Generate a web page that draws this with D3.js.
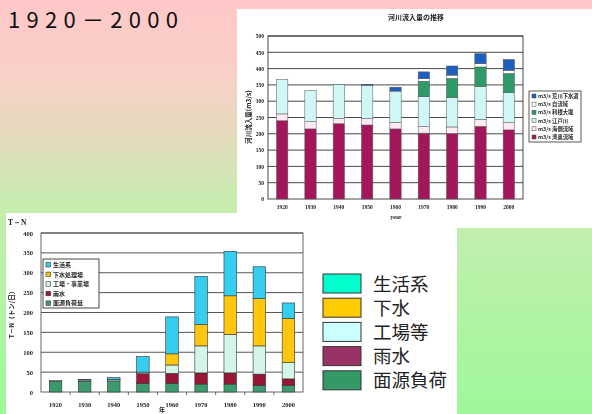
<!DOCTYPE html>
<html>
<head>
<meta charset="utf-8">
<script src="https://cdn.jsdelivr.net/npm/d3@7"></script>
<style>
  html, body { margin: 0; padding: 0; background: #fff; }
  svg { display: block; }
</style>
</head>
<body>
<svg id="slide" width="592" height="414"></svg>
<script>
// ---- Data: upper chart (river inflow, m3/s) ----
const years = ["1920", "1930", "1940", "1950", "1960", "1970", "1980", "1990", "2000"];
const inflowKeys = ["湾奥流域", "海側流域", "江戸川", "利根大堰", "自流域", "荒川下水道"];
const inflowBay      = [240, 215, 231, 227, 215, 202, 201, 223, 212];
const inflowCoast    = [21, 22, 16, 20, 20, 20, 20, 21, 22];
const inflowEdogawa  = [106, 96, 104, 102, 96, 92, 90, 101, 92];
const inflowTone     = [0, 0, 0, 0, 0, 47, 59, 60, 59];
const inflowLocal    = [0, 0, 0, 0, 0, 8, 10, 10, 10];
const inflowSewer    = [0, 0, 0, 3, 12, 21, 28, 31, 33];
const inflowTicks    = [0, 50, 100, 150, 200, 250, 300, 350, 400, 450, 500];

// ---- Data: lower chart (T-N load, t/day) ----
const loadKeys = ["面源負荷", "雨水", "工場等", "下水", "生活系"];
const loadNonPoint   = [27, 27, 28, 22, 22, 20, 20, 17, 17];
const loadRain       = [0, 0, 0, 24, 25, 28, 28, 28, 16];
const loadFactory    = [2, 3, 4, 4, 21, 68, 97, 71, 41];
const loadSewage     = [0, 0, 0, 0, 28, 54, 97, 119, 111];
const loadDomestic   = [0, 2, 4, 39, 93, 121, 112, 80, 39];
const loadTicks      = [0, 50, 100, 150, 200, 250, 300, 350, 400];
const loadLegendSmall = ["生活系", "下水処理場", "工場・事業場", "雨水", "面源負荷量"];
const bigLegend = ["生活系", "下水", "工場等", "雨水", "面源負荷"];

const svg = d3.select("#slide");
const defs = svg.append("defs");

// slide background: pink at the top fading into green
const grad = defs.append("linearGradient").attr("id", "bg").attr("x1", 0).attr("y1", 0).attr("x2", 0).attr("y2", 1);
[[0, "#fec8c8"], [0.18, "#fad0c8"], [0.34, "#e2dcbc"], [0.48, "#c8ebae"], [0.6, "#bef0ac"], [1, "#9ef89a"]]
  .forEach(([o, c]) => grad.append("stop").attr("offset", o).attr("stop-color", c));
svg.append("rect").attr("width", 592).attr("height", 414).attr("fill", "url(#bg)");

// soft look for the pasted chart images
const soft = defs.append("filter").attr("id", "soft").attr("x", -0.05).attr("y", -0.05).attr("width", 1.1).attr("height", 1.1);
soft.append("feGaussianBlur").attr("stdDeviation", 0.35);

// heading
svg.append("text")
  .attr("x", 8).attr("y", 28)
  .attr("font-family", "'Noto Sans CJK JP', 'DejaVu Sans', sans-serif")
  .attr("font-size", 22).attr("fill", "#111")
  .attr("textLength", 170).attr("lengthAdjust", "spacing")
  .text("1920－2000");

// white panels behind both charts
svg.append("rect").attr("x", 237).attr("y", 9).attr("width", 355).attr("height", 219).attr("fill", "#fff");
svg.append("rect").attr("x", 6).attr("y", 213).attr("width", 451).attr("height", 201).attr("fill", "#fff");

const jp = "'Noto Sans CJK JP', sans-serif";
const serif = "'Liberation Serif', 'DejaVu Serif', serif";

// ================= Upper chart =================
{
  const g = svg.append("g").attr("filter", "url(#soft)");
  const rows = years.map((y, i) => ({
    year: y,
    "湾奥流域": inflowBay[i], "海側流域": inflowCoast[i], "江戸川": inflowEdogawa[i],
    "利根大堰": inflowTone[i], "自流域": inflowLocal[i], "荒川下水道": inflowSewer[i]
  }));
  const colors = d3.scaleOrdinal().domain(inflowKeys)
    .range(["#a3195b", "#fbeaf2", "#d0f6f6", "#2f9a68", "#ffffff", "#1f5fbf"]);
  const x = d3.scaleBand().domain(years).range([268, 523]).paddingInner(0.6).paddingOuter(0.3);
  const y = d3.scaleLinear().domain([0, 500]).range([199, 36]);

  g.append("text").attr("x", 416).attr("y", 20).attr("text-anchor", "middle")
    .attr("font-family", jp).attr("font-size", 7).attr("font-weight", "bold").attr("fill", "#222")
    .text("河川流入量の推移");

  g.append("g").selectAll("line").data(inflowTicks.slice(1)).join("line")
    .attr("x1", 268).attr("x2", 523).attr("y1", d => y(d)).attr("y2", d => y(d))
    .attr("stroke", "#333").attr("stroke-width", 0.9);
  g.append("rect").attr("x", 268).attr("y", y(500)).attr("width", 255).attr("height", y(0) - y(500))
    .attr("fill", "none").attr("stroke", "#333").attr("stroke-width", 0.9);

  const stack = d3.stack().keys(inflowKeys)(rows);
  g.append("g").selectAll("g").data(stack).join("g")
    .attr("fill", d => colors(d.key))
    .selectAll("rect").data(d => d.filter(s => s[1] - s[0] > 0)).join("rect")
    .attr("x", d => x(d.data.year)).attr("width", x.bandwidth())
    .attr("y", d => y(d[1])).attr("height", d => y(d[0]) - y(d[1]))
    .attr("stroke", "#555").attr("stroke-width", 0.5);

  const ya = d3.axisLeft(y).tickValues(inflowTicks).tickSize(0).tickPadding(4);
  g.append("g").attr("transform", "translate(268,0)").call(ya)
    .call(a => a.select(".domain").remove())
    .selectAll("text").attr("font-family", serif).attr("font-size", 5.5).attr("font-weight", "bold").attr("fill", "#222");
  const xa = d3.axisBottom(x).tickSize(0).tickPadding(6);
  g.append("g").attr("transform", "translate(0,199)").call(xa)
    .call(a => a.select(".domain").remove())
    .selectAll("text").attr("font-family", serif).attr("font-size", 5.5).attr("font-weight", "bold").attr("fill", "#222");

  g.append("text").attr("x", 396).attr("y", 219).attr("text-anchor", "middle")
    .attr("font-family", serif).attr("font-size", 6).attr("font-weight", "bold").attr("fill", "#222").text("year");
  g.append("text").attr("transform", "translate(251,117) rotate(-90)").attr("text-anchor", "middle")
    .attr("font-family", jp).attr("font-size", 6.5).attr("font-weight", "bold").attr("fill", "#222")
    .text("河川流入量(m3/s)");

  // legend, topmost series first
  const lg = g.append("g");
  lg.append("rect").attr("x", 529).attr("y", 91).attr("width", 52).attr("height", 51)
    .attr("fill", "#fff").attr("stroke", "#333").attr("stroke-width", 0.8);
  const items = inflowKeys.slice().reverse();
  const row = lg.selectAll("g").data(items).join("g")
    .attr("transform", (d, i) => `translate(532,${98 + i * 8.2})`);
  row.append("rect").attr("x", 0).attr("y", -4).attr("width", 4).attr("height", 4)
    .attr("fill", d => colors(d)).attr("stroke", "#444").attr("stroke-width", 0.5);
  row.append("text").attr("x", 6).attr("y", 0)
    .attr("font-family", jp).attr("font-size", 5.3).attr("font-weight", "bold").attr("fill", "#222")
    .text(d => "m3/s " + d);
}

// ================= Lower chart =================
{
  const g = svg.append("g").attr("filter", "url(#soft)");
  const rows = years.map((y, i) => ({
    year: y,
    "面源負荷": loadNonPoint[i], "雨水": loadRain[i], "工場等": loadFactory[i],
    "下水": loadSewage[i], "生活系": loadDomestic[i]
  }));
  const colors = d3.scaleOrdinal().domain(loadKeys)
    .range(["#3a9a6e", "#9a1436", "#d4f6e8", "#ffc60a", "#36cdf0"]);
  const x = d3.scaleBand().domain(years).range([41, 303]).paddingInner(0.57).paddingOuter(0.285);
  const y = d3.scaleLinear().domain([0, 400]).range([392, 233]);

  g.append("g").selectAll("line").data(loadTicks.slice(1)).join("line")
    .attr("x1", 41).attr("x2", 303).attr("y1", d => y(d)).attr("y2", d => y(d))
    .attr("stroke", "#444").attr("stroke-width", 0.9);
  g.append("rect").attr("x", 41).attr("y", y(400)).attr("width", 262).attr("height", y(0) - y(400))
    .attr("fill", "none").attr("stroke", "#555").attr("stroke-width", 0.9);

  const stack = d3.stack().keys(loadKeys)(rows);
  g.append("g").selectAll("g").data(stack).join("g")
    .attr("fill", d => colors(d.key))
    .selectAll("rect").data(d => d.filter(s => s[1] - s[0] > 0)).join("rect")
    .attr("x", d => x(d.data.year)).attr("width", x.bandwidth())
    .attr("y", d => y(d[1])).attr("height", d => y(d[0]) - y(d[1]))
    .attr("stroke", "#333").attr("stroke-width", 0.6);

  // small ticks on the base line between categories
  g.append("g").selectAll("line").data(years.slice(1)).join("line")
    .attr("x1", d => x(d) - (x.step() - x.bandwidth()) / 2)
    .attr("x2", d => x(d) - (x.step() - x.bandwidth()) / 2)
    .attr("y1", 392).attr("y2", 395).attr("stroke", "#444").attr("stroke-width", 0.8);

  const ya = d3.axisLeft(y).tickValues(loadTicks).tickSize(0).tickPadding(8);
  g.append("g").attr("transform", "translate(41,0)").call(ya)
    .call(a => a.select(".domain").remove())
    .selectAll("text").attr("font-family", serif).attr("font-size", 6.5).attr("font-weight", "bold").attr("fill", "#222");
  const xa = d3.axisBottom(x).tickSize(0).tickPadding(10);
  g.append("g").attr("transform", "translate(0,392)").call(xa)
    .call(a => a.select(".domain").remove())
    .selectAll("text").attr("font-family", serif).attr("font-size", 6.5).attr("font-weight", "bold").attr("fill", "#222");

  g.append("text").attr("x", 8).attr("y", 225)
    .attr("font-family", serif).attr("font-size", 7.5).attr("font-weight", "bold").attr("fill", "#222").text("T－N");
  g.append("text").attr("transform", "translate(14,313) rotate(-90)").attr("text-anchor", "middle")
    .attr("font-family", jp).attr("font-size", 6.5).attr("font-weight", "bold").attr("fill", "#222")
    .text("T－N（トン/日）");
  g.append("text").attr("x", 162).attr("y", 412).attr("text-anchor", "middle")
    .attr("font-family", jp).attr("font-size", 6).attr("font-weight", "bold").attr("fill", "#222").text("年");

  // inner legend
  const lg = g.append("g");
  lg.append("rect").attr("x", 43).attr("y", 259).attr("width", 56).attr("height", 49)
    .attr("fill", "#fff").attr("stroke", "#333").attr("stroke-width", 0.9);
  const legendColors = ["#36cdf0", "#ffc60a", "#d4f6e8", "#9a1436", "#3a9a6e"];
  const row = lg.selectAll("g").data(loadLegendSmall).join("g")
    .attr("transform", (d, i) => `translate(46,${267 + i * 9.6})`);
  row.append("rect").attr("x", 0).attr("y", -4.5).attr("width", 4.5).attr("height", 4.5)
    .attr("fill", (d, i) => legendColors[i]).attr("stroke", "#333").attr("stroke-width", 0.6);
  row.append("text").attr("x", 7).attr("y", 0)
    .attr("font-family", jp).attr("font-size", 6).attr("font-weight", "bold").attr("fill", "#222")
    .text(d => d);
}

// ================= Large legend =================
{
  const swatch = ["#00ffcc", "#ffcc00", "#ccffff", "#993366", "#339966"];
  const lg = svg.append("g").selectAll("g").data(bigLegend).join("g")
    .attr("transform", (d, i) => `translate(323,${274 + i * 24.2})`);
  lg.append("rect").attr("x", 0).attr("y", 0).attr("width", 38).attr("height", 19)
    .attr("fill", (d, i) => swatch[i]).attr("stroke", "#333").attr("stroke-width", 1);
  lg.append("text").attr("x", 50).attr("y", 16.5)
    .attr("font-family", jp).attr("font-size", 18.5).attr("fill", "#222")
    .text(d => d);
}
</script>
</body>
</html>
